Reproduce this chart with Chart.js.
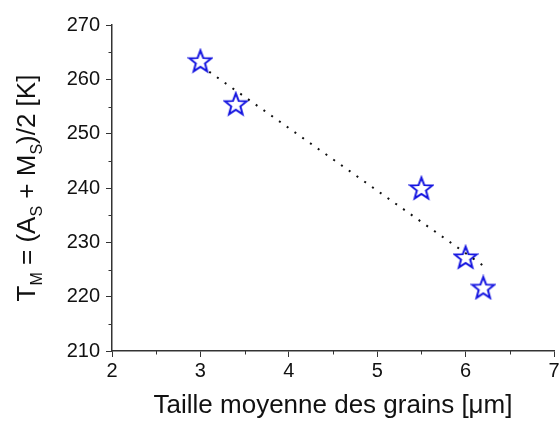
<!DOCTYPE html>
<html>
<head>
<meta charset="utf-8">
<script src="https://cdn.jsdelivr.net/npm/chart.js@4.4.1/dist/chart.umd.min.js"></script>
<style>
  html, body { margin: 0; padding: 0; background: #fff; }
  #wrap { width: 560px; height: 421px; }
</style>
</head>
<body>
<div id="wrap"><canvas id="chart" width="560" height="421"></canvas></div>
<script>
// grain size (µm) vs T_M (K)
const grainSize = [3.0, 3.4, 5.5, 6.0, 6.2];
const tempM = [263.4, 255.5, 240.0, 227.3, 221.7];

// dotted linear fit
const fitX = [3.1, 6.2];
const fitY = [261.4, 225.7];

const xTicks = [2, 3, 4, 5, 6, 7];
const yTicks = [210, 220, 230, 240, 250, 260, 270];
const xMinor = [2.5, 3.5, 4.5, 5.5, 6.5];
const yMinor = [215, 225, 235, 245, 255, 265];

const FONT = "'Liberation Sans', Arial, sans-serif";
const AXIS = "#333";

function makeStar(size, color) {
  const c = document.createElement("canvas");
  c.width = c.height = size;
  const g = c.getContext("2d");
  const R = size / 2 - 1.5;
  const r = R * 0.42;
  const cx = size / 2;
  const cy = size / 2 + R * 0.09;
  g.beginPath();
  for (let i = 0; i < 10; i++) {
    const a = -Math.PI / 2 + i * Math.PI / 5;
    const rad = i % 2 ? r : R;
    g.lineTo(cx + rad * Math.cos(a), cy + rad * Math.sin(a));
  }
  g.closePath();
  g.lineWidth = 2;
  g.lineJoin = "miter";
  g.strokeStyle = color;
  g.stroke();
  return c;
}

const starImg = makeStar(26, "#1414e0");

// minor ticks + y title with subscripts
const extras = {
  id: "extras",
  afterDraw(chart) {
    const { ctx } = chart;
    const x = chart.scales.x;
    const y = chart.scales.y;
    ctx.save();
    ctx.strokeStyle = AXIS;
    ctx.lineWidth = 1;
    ctx.beginPath();
    xMinor.forEach((v) => {
      const px = Math.round(x.getPixelForValue(v)) + 0.5;
      ctx.moveTo(px, x.top);
      ctx.lineTo(px, x.top + 3.5);
    });
    yMinor.forEach((v) => {
      const py = Math.round(y.getPixelForValue(v)) + 0.5;
      ctx.moveTo(y.right, py);
      ctx.lineTo(y.right - 3.5, py);
    });
    ctx.stroke();

    // rotated y title
    const parts = [
      { t: "T", sub: false },
      { t: "M", sub: true },
      { t: " = (A", sub: false },
      { t: "S", sub: true },
      { t: " + M", sub: false },
      { t: "S", sub: true },
      { t: ")/2 [K]", sub: false },
    ];
    const big = "26px " + FONT;
    const small = "16px " + FONT;
    let total = 0;
    parts.forEach((p) => {
      ctx.font = p.sub ? small : big;
      p.w = ctx.measureText(p.t).width;
      total += p.w;
    });
    ctx.translate(35, (y.top + y.bottom) / 2);
    ctx.rotate(-Math.PI / 2);
    ctx.fillStyle = "#111";
    ctx.textBaseline = "alphabetic";
    let cx = -total / 2;
    parts.forEach((p) => {
      ctx.font = p.sub ? small : big;
      ctx.fillText(p.t, cx, p.sub ? 7 : 0);
      cx += p.w;
    });
    ctx.restore();
  },
};

new Chart(document.getElementById("chart"), {
  type: "scatter",
  data: {
    datasets: [
      {
        label: "T_M",
        data: grainSize.map((v, i) => ({ x: v, y: tempM[i] })),
        pointStyle: starImg,
        showLine: false,
        order: 2,
      },
      {
        label: "fit",
        data: fitX.map((v, i) => ({ x: v, y: fitY[i] })),
        showLine: true,
        borderColor: "#111",
        borderWidth: 2,
        borderDash: [2, 7.5],
        pointRadius: 0,
        fill: false,
        order: 1,
      },
    ],
  },
  options: {
    responsive: false,
    animation: false,
    devicePixelRatio: 1,
    layout: { padding: { top: 25, right: 0, left: 0, bottom: 0 } },
    plugins: {
      legend: { display: false },
      tooltip: { enabled: false },
    },
    scales: {
      x: {
        type: "linear",
        min: xTicks[0],
        max: xTicks[xTicks.length - 1],
        afterFit: (s) => { s.height = 70; s.paddingRight = 6; },
        afterBuildTicks: (s) => { s.ticks = xTicks.map((v) => ({ value: v })); },
        ticks: { color: "#111", font: { family: FONT, size: 20 }, padding: 2 },
        grid: { drawOnChartArea: false, color: AXIS, tickLength: 6, tickWidth: 1 },
        border: { color: AXIS, width: 1.5 },
        title: {
          display: true,
          text: "Taille moyenne des grains [μm]",
          color: "#111",
          font: { family: FONT, size: 26 },
          padding: { top: 0, bottom: 0 },
        },
      },
      y: {
        type: "linear",
        min: yTicks[0],
        max: yTicks[yTicks.length - 1],
        afterFit: (s) => { s.width = 112; },
        afterBuildTicks: (s) => { s.ticks = yTicks.map((v) => ({ value: v })); },
        ticks: { color: "#111", font: { family: FONT, size: 20 }, padding: 6 },
        grid: { drawOnChartArea: false, color: AXIS, tickLength: 6, tickWidth: 1 },
        border: { color: AXIS, width: 1.5 },
      },
    },
  },
  plugins: [extras],
});
</script>
</body>
</html>
